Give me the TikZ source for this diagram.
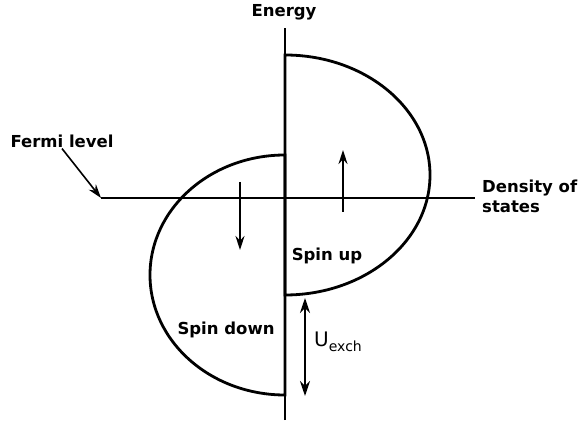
\documentclass[tikz,border=0pt]{standalone}
\usepackage{fontspec}
\setmainfont{DejaVu Sans}
\usetikzlibrary{arrows.meta,positioning}
\tikzset{
  eje/.style     = {line width=1.6pt},
  banda/.style   = {line width=2.8pt},
  flecha/.style  = {-{Stealth[length=14pt,width=9pt]}, line width=1.6pt},
  flechad/.style = {{Stealth[length=15pt,width=10pt]}-{Stealth[length=15pt,width=10pt]}, line width=2pt},
  etiq/.style    = {font=\bfseries\fontsize{16.5}{20}\selectfont, inner sep=1pt},
}

\begin{document}
\begin{tikzpicture}[x=1pt,y=-1pt]
  \useasboundingbox (0,0) rectangle (578,435);
  % ejes
  \coordinate (ytop) at (285,28);
  \coordinate (ybot) at (285,420);
  \coordinate (ef) at (101,198);
  \coordinate (xend) at (475,198);
  \draw[eje] (ybot) -- (ytop);
  \draw[eje] (ef) -- (xend);
  % bandas
  \draw[banda] (285,55) arc[start angle=-90, end angle=90, x radius=145, y radius=120] -- cycle;
  \draw[banda] (285,155) arc[start angle=270, end angle=90, x radius=135, y radius=120] -- cycle;
  \draw[banda] (285,198) -- (427,198);
  % etiquetas
  \node[etiq] (energia) at (284,12) {Energy};
  \node[etiq, anchor=west, align=left] (dos) at (481,196) {Density of\\states};
  \node[etiq] (fermi) at (62,141) {Fermi level};
  \node[etiq] (up) at (327,256) {Spin up};
  \node[etiq] (down) at (226,330) {Spin down};
  \draw[flecha] (fermi.south) -- (ef);
  % espines
  \coordinate (up0) at (343,212);
  \coordinate (up1) at (343,150);
  \coordinate (dn0) at (240,182);
  \coordinate (dn1) at (240,250);
  \draw[flecha] (up0) -- (up1);
  \draw[flecha] (dn0) -- (dn1);
  % desdoblamiento
  \coordinate (u0) at (305,298);
  \coordinate (u1) at (305,396);
  \draw[flechad] (u0) -- (u1);
  \node[anchor=west, inner sep=1pt] (uexch) at (313,342) {\fontsize{20}{21}\selectfont U\fontsize{14}{15}\selectfont\raisebox{-5pt}{exch}};
\end{tikzpicture}
\end{document}
